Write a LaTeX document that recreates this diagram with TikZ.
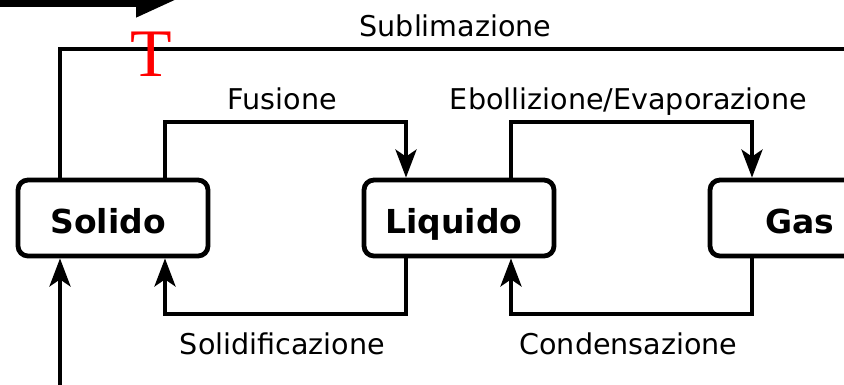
\documentclass[tikz,border=0pt]{standalone}
\usepackage{fontspec}
\setmainfont{DejaVu Sans}
\newfontfamily\serifT{Liberation Serif}
\usetikzlibrary{arrows.meta}
\tikzset{
  stato/.style={draw, line width=4.8pt, rounded corners=10pt, minimum width=190pt, minimum height=76pt, inner sep=0pt,
    text height=32pt, text depth=2pt, execute at begin node={\kern-10pt}, font=\fontsize{33}{40}\selectfont\bfseries},
  passo/.style={line width=4pt, -{Stealth[length=28pt,width=21pt,inset=7pt]}},
  etichetta/.style={font=\fontsize{28.6}{34}\selectfont, inner sep=0pt, anchor=base, xshift=-3pt}
}
\begin{document}
\begin{tikzpicture}[x=1pt,y=-1pt]
  \useasboundingbox (0,0) rectangle (844,384);
  % stati della materia
  \node[stato] (solido) at (113,218) {Solido};
  \node[stato] (liquido) at (459,218) {Liquido};
  \node[stato] (gas) at (805,218) {Gas};
  % passaggi di stato
  \draw[passo] ([xshift=52pt]solido.north) -- ++(0,-56) -| ([xshift=-53pt]liquido.north)
    node[etichetta, pos=0.25, yshift=12.6pt] {Fusione};
  \draw[passo] ([xshift=52pt]liquido.north) -- ++(0,-56) -| ([xshift=-53pt]gas.north)
    node[etichetta, pos=0.25, yshift=12.6pt] {Ebollizione/Evaporazione};
  \draw[passo] ([xshift=-53pt]liquido.south) -- ++(0,56) -| ([xshift=52pt]solido.south)
    node[etichetta, pos=0.25, yshift=-40.5pt] {Solidificazione};
  \draw[passo] ([xshift=-53pt]gas.south) -- ++(0,56) -| ([xshift=52pt]liquido.south)
    node[etichetta, pos=0.25, yshift=-40.5pt] {Condensazione};
  \draw[passo] ([xshift=-53pt]solido.north) -- ++(0,-129) -| ([xshift=52pt]gas.north)
    node[etichetta, pos=0.25, yshift=12.6pt] {Sublimazione};
  % frecce esterne
  \coordinate (dalbasso) at (60,400);
  \draw[passo] (dalbasso) -- ([xshift=-53pt]solido.south);
  \coordinate (tinizio) at (-10,0);
  \coordinate (tfine) at (176,0);
  \draw[line width=14pt, -{Triangle[length=40pt,width=32pt]}] (tinizio) -- (tfine);
  \node[text=red, font=\serifT\fontsize{68}{72}\selectfont, inner sep=0pt] (temp) at (151,54.5) {T};
\end{tikzpicture}
\end{document}
